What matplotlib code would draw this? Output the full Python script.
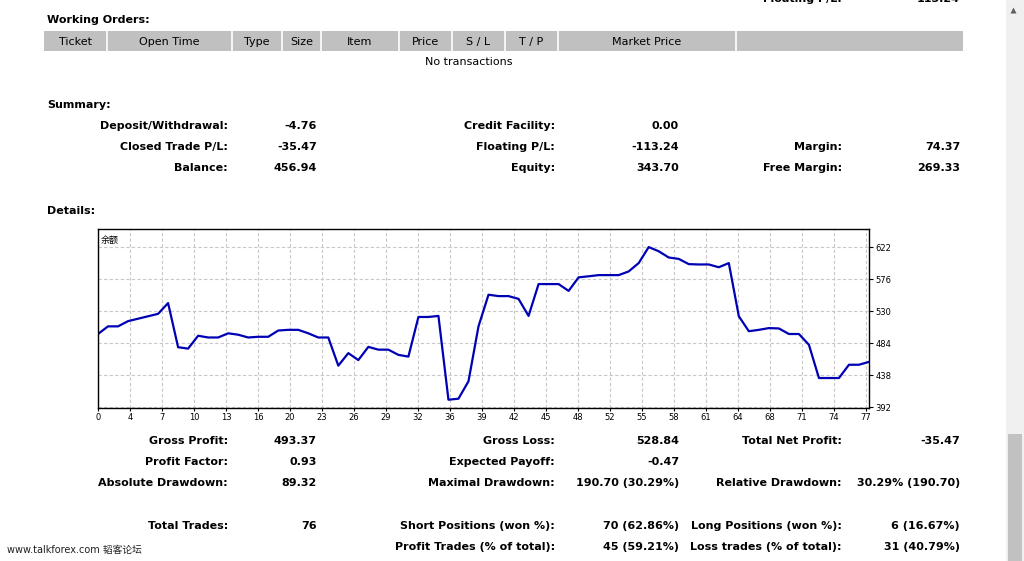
import numpy as np
import matplotlib
matplotlib.use("Agg")
from matplotlib import pyplot as plt
from matplotlib.patches import Rectangle

plt.rcParams['font.family'] = ['DejaVu Sans', 'Noto Sans CJK SC']

# balance curve (one point per closed trade)
balance = [497, 508, 508, 515.5, 519, 522.5, 526, 541.5, 478, 476,
           494.5, 492, 492, 498, 496, 492, 493, 493, 502, 503,
           503, 498, 492, 492, 451.5, 469.5, 459.5, 478.5, 474.5, 474.5,
           467, 464.5, 521.5, 521.5, 523, 402.5, 404, 429, 508, 553.5,
           551.5, 551.5, 547.5, 523, 568.8, 568.8, 568.8, 559, 578.5, 580,
           581.7, 581.7, 581.7, 587, 599, 622, 616, 607, 605, 597.5,
           597, 597, 593, 599, 522.5, 501, 503, 505.5, 505, 497,
           497, 481.5, 433.7, 433.7, 433.7, 452.8, 452.8, 456.94]
trades = np.arange(len(balance))

y_ticks = [392, 438, 484, 530, 576, 622]
x_tick_labels = ['0', '4', '7', '10', '13', '16', '20', '23', '26', '29', '32', '36',
                 '39', '42', '45', '48', '52', '55', '58', '61', '64', '68', '71', '74', '77']

header_cols = ['Ticket', 'Open Time', 'Type', 'Size', 'Item', 'Price', 'S / L', 'T / P',
               'Market Price', '']
header_edges = [44, 107, 232, 282, 321, 399, 452, 505, 558, 736, 963]

summary_rows = [
    ['Deposit/Withdrawal:', '-4.76', 'Credit Facility:', '0.00', '', ''],
    ['Closed Trade P/L:', '-35.47', 'Floating P/L:', '-113.24', 'Margin:', '74.37'],
    ['Balance:', '456.94', 'Equity:', '343.70', 'Free Margin:', '269.33'],
]
stats_rows = [
    ['Gross Profit:', '493.37', 'Gross Loss:', '528.84', 'Total Net Profit:', '-35.47'],
    ['Profit Factor:', '0.93', 'Expected Payoff:', '-0.47', '', ''],
    ['Absolute Drawdown:', '89.32', 'Maximal Drawdown:', '190.70 (30.29%)',
     'Relative Drawdown:', '30.29% (190.70)'],
    ['Total Trades:', '76', 'Short Positions (won %):', '70 (62.86%)',
     'Long Positions (won %):', '6 (16.67%)'],
    ['', '', 'Profit Trades (% of total):', '45 (59.21%)',
     'Loss trades (% of total):', '31 (40.79%)'],
]
stats_y = [441, 462, 483, 526, 547]

W, H = 1024, 561
fig = plt.figure(figsize=(W / 100, H / 100), dpi=100)
bg = fig.add_axes([0, 0, 1, 1])
bg.set_xlim(0, W)
bg.set_ylim(H, 0)
bg.axis('off')

fs = 8
col_x = [228, 317, 555, 679, 842, 960]


def row(y, cells):
    for cx, txt in zip(col_x, cells):
        if txt:
            bg.text(cx, y, txt, ha='right', va='center', fontsize=fs, fontweight='bold')


# cut-off line at the very top
row(-1, ['', '', '', '', 'Floating P/L:', '113.24'])

bg.text(47, 20, 'Working Orders:', ha='left', va='center', fontsize=fs, fontweight='bold')
bg.add_patch(Rectangle((44, 31), 919, 20, facecolor='#c0c0c0', edgecolor='none'))
for e in header_edges[1:-1]:
    bg.plot([e, e], [31, 51], color='white', lw=1.2)
for i, name in enumerate(header_cols):
    cx = (header_edges[i] + header_edges[i + 1]) / 2
    bg.text(cx, 41.5, name, ha='center', va='center', fontsize=fs)
bg.text(469, 62, 'No transactions', ha='center', va='center', fontsize=fs)

bg.text(47, 105, 'Summary:', ha='left', va='center', fontsize=fs, fontweight='bold')
for y, r in zip([126, 147, 168], summary_rows):
    row(y, r)

bg.text(47, 211, 'Details:', ha='left', va='center', fontsize=fs, fontweight='bold')

for y, r in zip(stats_y, stats_rows):
    row(y, r)

bg.text(7, 550, 'www.talkforex.com 韬客论坛', ha='left', va='center', fontsize=7, color='#202020')

# scrollbar
bg.add_patch(Rectangle((1006, 0), 18, H, facecolor='#f0f0f0', edgecolor='none'))
bg.add_patch(Rectangle((1007.5, 434), 14.5, H - 434, facecolor='#c1c1c1', edgecolor='none'))
bg.plot([1013], [9.5], marker='^', ms=4, color='#606060', mec='none')

# balance chart
left, right, top, bottom = 98, 869, 229, 408
ax = fig.add_axes([left / W, 1 - bottom / H, (right - left) / W, (bottom - top) / H])
ax.plot(trades, balance, color='#0000b4', lw=1.6)
ax.set_xlim(0, 77)
ax.set_ylim(390.6, 648)
step = 32 * 77 / 771
ax.set_xticks([k * step for k in range(len(x_tick_labels))])
ax.set_xticklabels(x_tick_labels)
ax.set_yticks(y_ticks)
ax.grid(True, color='#c8c8c8', linestyle=(0, (3, 2)), lw=0.8)
ax.tick_params(axis='y', left=False, labelleft=False, right=True, labelright=True,
               direction='out', length=3, pad=1.5, labelsize=6)
ax.tick_params(axis='x', direction='out', length=2, pad=1.5, labelsize=6)
for s in ax.spines.values():
    s.set_linewidth(1)
    s.set_color('black')
ax.text(0.004, 0.96, '余额', transform=ax.transAxes, ha='left', va='top',
        fontsize=6.5, family=['Noto Sans CJK SC', 'DejaVu Sans'])

fig.savefig('out.png', dpi=100)
